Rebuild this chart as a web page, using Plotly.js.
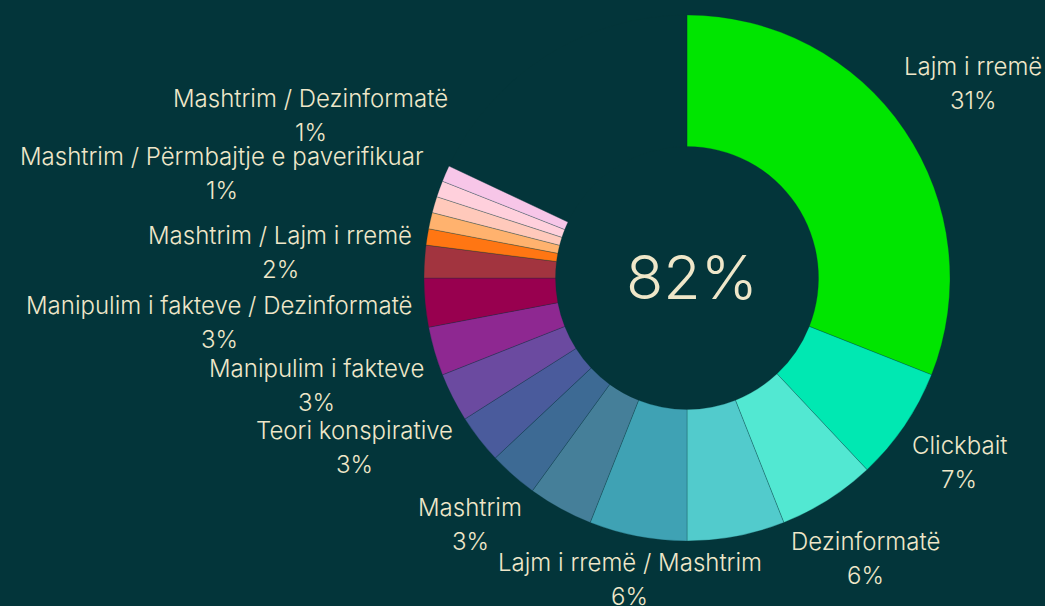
<!DOCTYPE html>
<html><head><meta charset="utf-8">
<script src="https://cdn.plot.ly/plotly-3.0.1.min.js"></script>
<style>html,body{margin:0;padding:0;background:#03353a;overflow:hidden}</style>
</head><body><div id="chart" style="width:1045px;height:606px"></div>
<script>
// ---- data ----
const categories = ["Lajm i rremë","Clickbait","Dezinformatë","","Lajm i rremë / Mashtrim","","Mashtrim","","Teori konspirative","Manipulim i fakteve","Manipulim i fakteve / Dezinformatë","Mashtrim / Lajm i rremë","","Mashtrim / Përmbajtje e paverifikuar","","","Mashtrim / Dezinformatë"];
const values = [31,7,6,6,6,4,3,3,3,3,3,2,1,1,1,1,1];
const percentLabels = ["31%","7%","6%","","6%","","3%","","3%","3%","3%","2%","","1%","","","1%"];
const remainder = 18;
const totalLabel = "82%";
const colors = ["#00e500","#00e8b2","#52e8d2","#52cbcc","#3fa2b4","#457f99","#3d6a94","#4a5b9c","#6b4aa0","#8e2891","#98004f","#a2343f","#ff7613","#ffb26e","#ffc9bb","#ffd0dc","#f7c6e8"];

// ---- style / layout constants ----
const W = 1045, H = 606;
const BG = "#03353a", TXT = "#efe7c9";
const CX = 687, CY = 278, R = 263;
const FONT = "Inter", FS = 24, FW = 300, LINE_GAP = 34, LABEL_PAD = 12, HALF_H = 26;

const pieValues = values.concat([remainder]);
const pieColors = colors.concat(["rgba(0,0,0,0)"]);
const total = pieValues.reduce((a, b) => a + b, 0);

const ctx = document.createElement("canvas").getContext("2d");
ctx.font = FW + " " + FS + "px " + FONT;

const annotations = [];
let cum = 0;
values.forEach((v, i) => {
  const mid = (cum + v / 2) / total * 2 * Math.PI;
  cum += v;
  if (!categories[i]) return;
  const ux = Math.sin(mid), uy = -Math.cos(mid);
  const hw = Math.max(ctx.measureText(categories[i]).width, ctx.measureText(percentLabels[i]).width) / 2;
  const R0 = R + LABEL_PAD;
  const dist = d => Math.hypot(Math.max(0, d * Math.abs(ux) - hw), Math.max(0, d * Math.abs(uy) - HALF_H));
  let lo = 0, hi = 3000;
  for (let k = 0; k < 60; k++) { const m = (lo + hi) / 2; if (dist(m) < R0) lo = m; else hi = m; }
  const px = CX + lo * ux, py = CY + lo * uy;
  [[categories[i], py - LINE_GAP / 2], [percentLabels[i], py + LINE_GAP / 2]].forEach(([t, yy]) => {
    annotations.push({xref: "paper", yref: "paper", x: px / W, y: 1 - yy / H, text: t, showarrow: false,
      xanchor: "center", yanchor: "middle", font: {family: FONT, size: FS, color: TXT, weight: FW}});
  });
});
annotations.push({xref: "paper", yref: "paper", x: (CX + 5) / W, y: 1 - (CY - 1) / H, text: totalLabel, showarrow: false,
  xanchor: "center", yanchor: "middle", font: {family: FONT, size: 61, color: TXT, weight: 300}});

const trace = {
  type: "pie", values: pieValues, labels: pieValues.map((v, i) => "s" + i),
  sort: false, direction: "clockwise", rotation: 0, hole: 0.5,
  textinfo: "none", hoverinfo: "skip", showlegend: false,
  marker: {colors: pieColors, line: {color: "rgba(3,53,58,0.45)", width: 0.6}},
  domain: {x: [(CX - R) / W, (CX + R) / W], y: [(H - CY - R) / H, (H - CY + R) / H]}
};

Plotly.newPlot("chart", [trace], {
  width: W, height: H, margin: {l: 0, r: 0, t: 0, b: 0, pad: 0},
  paper_bgcolor: BG, plot_bgcolor: BG, showlegend: false,
  font: {family: FONT, color: TXT}, annotations: annotations
}, {displayModeBar: false, staticPlot: true});
</script></body></html>
